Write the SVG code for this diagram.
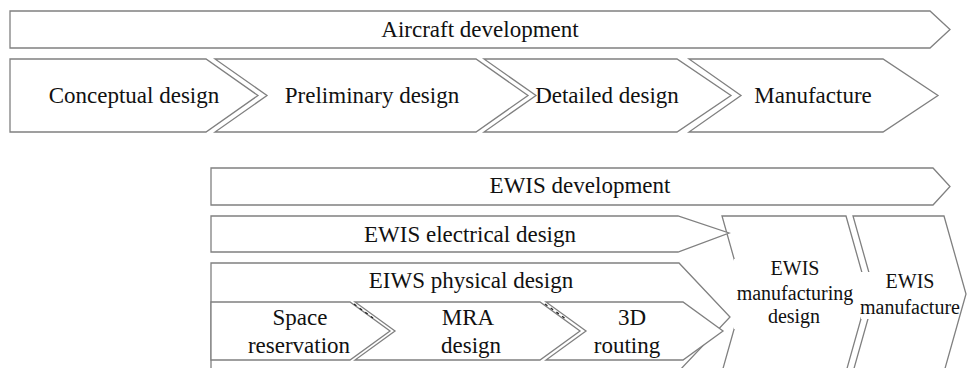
<svg xmlns="http://www.w3.org/2000/svg" width="968" height="368" viewBox="0 0 968 368" font-family="'Liberation Serif', 'Times New Roman', Times, serif">
<style>
text{font-family:'Liberation Serif','Times New Roman',Times,serif}
.s{fill:#fff;stroke:#808080;stroke-width:1.3;stroke-linejoin:miter}
.t{font-size:23px;fill:#111;text-anchor:middle}
.m{font-size:20px}
.d{fill:none;stroke:#222;stroke-width:1.3;stroke-dasharray:3 4}
.w{fill:#fff;stroke:none}
</style>
<rect width="968" height="368" fill="#fff"/>
<g id="aircraft-development">
<path class="s" d="M10,11 H930 L950,29.5 L930,48 H10 Z"/>
<text class="t" x="480" y="37" font-family="Liberation Serif">Aircraft development</text>
</g>
<g id="conceptual-design">
<path class="s" d="M10,59 H206 L258,95.5 L206,132 H10 Z"/>
<text class="t" x="134" y="103">Conceptual design</text>
</g>
<g id="preliminary-design">
<path class="s" d="M215,59 H476 L528,95.5 L476,132 H215 L267,95.5 Z"/>
<text class="t" x="372" y="103">Preliminary design</text>
</g>
<g id="detailed-design">
<path class="s" d="M484,59 H677 L731,95.5 L677,132 H484 L536,95.5 Z"/>
<text class="t" x="607" y="103">Detailed design</text>
</g>
<g id="manufacture">
<path class="s" d="M689,59 H883 L938,95.5 L883,132 H689 L741,95.5 Z"/>
<text class="t" x="813" y="103">Manufacture</text>
</g>
<g id="ewis-development">
<path class="s" d="M211,168 H933 L950,186.5 L933,205 H211 Z"/>
<text class="t" x="580" y="193">EWIS development</text>
</g>
<g id="ewis-manufacturing-design">
<path class="s" d="M722,216 H846 L868,294 L846,372 H722 L744,294 Z"/>
</g>
<g id="ewis-manufacture">
<path class="s" d="M853,216 H944 L966,294 L944,372 H853 L875,294 Z"/>
</g>
<g id="ewis-electrical-design">
<path class="s" d="M211,216 H678 L729,233 L678,252 H211 Z"/>
<text class="t" x="470" y="242">EWIS electrical design</text>
</g>
<g id="eiws-physical-design">
<path class="s" d="M211,263 H679 L730,317 L679,371 H211 Z"/>
<text class="t" x="471" y="288">EIWS physical design</text>
</g>
<g id="space-reservation">
<path class="s" d="M211,302 H350 L390,331 L350,360 H211 Z"/>
<text class="t" x="300" y="325">Space</text>
<text class="t" x="299" y="353">reservation</text>
</g>
<g id="mra-design">
<path class="s" d="M355,302 H540 L580,331 L540,360 H355 L395,331 Z"/>
<text class="t" x="468" y="325">MRA</text>
<text class="t" x="471" y="353">design</text>
</g>
<g id="routing-3d">
<path class="s" d="M546,302 H683 L723,331 L683,360 H546 L586,331 Z"/>
<text class="t" x="632" y="325">3D</text>
<text class="t" x="627" y="353">routing</text>
</g>
<g id="mfg-labels">
<rect class="w" x="734" y="259" width="122" height="70"/>
<text class="t m" x="795" y="275">EWIS</text>
<text class="t m" x="795" y="300">manufacturing</text>
<text class="t m" x="794" y="323">design</text>
<rect class="w" x="861" y="272" width="96" height="47"/>
<text class="t m" x="910" y="288">EWIS</text>
<text class="t m" x="910" y="314">manufacture</text>
</g>
<g id="connectors">
<path class="d" d="M354,304 L373,318"/>
<path class="d" d="M545,304 L566,319"/>
</g>
</svg>
